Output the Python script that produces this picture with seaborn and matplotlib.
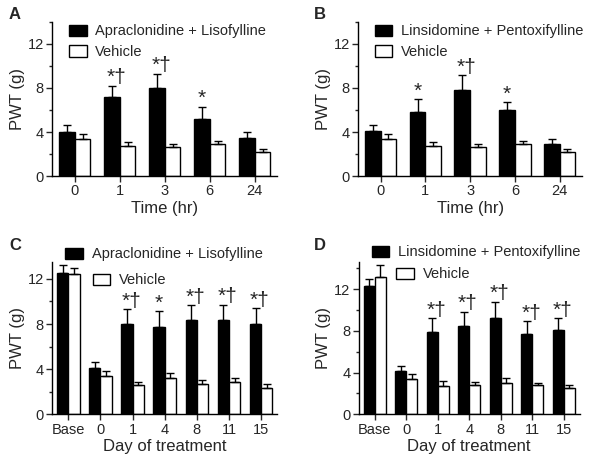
import pandas as pd
import matplotlib.pyplot as plt
import seaborn as sns
from matplotlib.patches import Patch
from matplotlib.ticker import MultipleLocator

sns.set_style('ticks')
plt.rcParams['font.family'] = ['Liberation Sans', 'DejaVu Sans']

# Panels A/B: hours after single dose
hours = ['0', '1', '3', '6', '24']
a_drug = [4.0, 7.15, 8.0, 5.15, 3.5]
a_drug_sem = [0.6, 1.05, 1.3, 1.15, 0.5]
a_veh = [3.4, 2.7, 2.6, 2.9, 2.2]
a_veh_sem = [0.4, 0.4, 0.3, 0.3, 0.3]
a_marks = ['', '*†', '*†', '*', '']

b_drug = [4.1, 5.8, 7.85, 6.0, 2.95]
b_drug_sem = [0.5, 1.2, 1.3, 0.7, 0.4]
b_veh = [3.4, 2.7, 2.6, 2.9, 2.2]
b_veh_sem = [0.4, 0.4, 0.3, 0.3, 0.3]
b_marks = ['', '*', '*†', '*', '']

# Panels C/D: days of treatment
days = ['Base', '0', '1', '4', '8', '11', '15']
c_drug = [12.55, 4.07, 8.0, 7.7, 8.35, 8.4, 8.0]
c_drug_sem = [0.65, 0.6, 1.3, 1.45, 1.3, 1.3, 1.4]
c_veh = [12.4, 3.4, 2.55, 3.25, 2.7, 2.9, 2.35]
c_veh_sem = [0.6, 0.4, 0.35, 0.45, 0.3, 0.3, 0.3]
c_marks = ['', '', '*†', '*', '*†', '*†', '*†']

d_drug = [12.25, 4.1, 7.85, 8.45, 9.25, 7.7, 8.05]
d_drug_sem = [0.7, 0.55, 1.35, 1.35, 1.55, 1.2, 1.15]
d_veh = [13.2, 3.4, 2.75, 2.8, 3.0, 2.85, 2.55]
d_veh_sem = [1.1, 0.45, 0.4, 0.3, 0.45, 0.1, 0.25]
d_marks = ['', '', '*†', '*†', '*†', '*†', '*†']

drug_ac = 'Apraclonidine + Lisofylline'
drug_lp = 'Linsidomine + Pentoxifylline'

fig = plt.figure(figsize=(6, 4.67), dpi=100)


def panel(rect, cats, drug, drug_sem, veh, veh_sem, marks, drug_name, xlabel,
          ytop, leg1, leg2):
    ax = fig.add_axes(rect)
    df = pd.DataFrame({
        'x': cats + cats,
        'group': [drug_name] * len(cats) + ['Vehicle'] * len(cats),
        'PWT': drug + veh,
    })
    sns.barplot(data=df, x='x', y='PWT', hue='group', order=cats,
                palette=['black', 'white'], saturation=1, width=0.7,
                edgecolor='black', linewidth=1, errorbar=None, legend=False, ax=ax)
    # one-sided SEM bars on top of each bar
    for cont, sem in zip(ax.containers, [drug_sem, veh_sem]):
        xs = [p.get_x() + p.get_width() / 2 for p in cont.patches]
        ys = [p.get_height() for p in cont.patches]
        ax.errorbar(xs, ys, yerr=[[0] * len(sem), sem], fmt='none', ecolor='black',
                    elinewidth=1, capsize=3, capthick=1)
    for p, s, m in zip(ax.containers[0].patches, drug_sem, marks):
        if m:
            xc = p.get_x() + p.get_width() / 2
            ax.annotate(m, (xc, p.get_height() + s), xytext=(-4 if len(m) > 1 else 0, -1),
                        textcoords='offset points', ha='left' if len(m) > 1 else 'center',
                        va='bottom', fontsize=15)
    ax.set_ylim(0, ytop)
    ax.set_xlim(-0.5, len(cats) - 0.5)
    ax.yaxis.set_major_locator(MultipleLocator(4))
    ax.yaxis.set_minor_locator(MultipleLocator(2))
    ax.tick_params(axis='both', which='major', labelsize=10.5, length=4, width=1, pad=2)
    ax.tick_params(axis='y', which='minor', length=2.5, width=1)
    ax.set_ylabel('PWT (g)', fontsize=12, labelpad=2)
    ax.set_xlabel(xlabel, fontsize=12, labelpad=2)
    for sp in ['left', 'bottom']:
        ax.spines[sp].set_linewidth(1)
        ax.spines[sp].set_color('black')
    sns.despine(ax=ax)
    kw = dict(frameon=False, fontsize=10.5, handlelength=1.2, handleheight=0.8,
              handletextpad=0.6, borderpad=0, borderaxespad=0, loc='center left')
    l1 = ax.legend(handles=[Patch(facecolor='black', edgecolor='black', label=drug_name)],
                   bbox_to_anchor=leg1, **kw)
    ax.add_artist(l1)
    ax.legend(handles=[Patch(facecolor='white', edgecolor='black', label='Vehicle')],
              bbox_to_anchor=leg2, **kw)
    return ax


panel([0.087, 0.623, 0.375, 0.330], hours, a_drug, a_drug_sem, a_veh, a_veh_sem,
      a_marks, drug_ac, 'Time (hr)', 14, (0.075, 0.94), (0.075, 0.805))
panel([0.597, 0.623, 0.373, 0.330], hours, b_drug, b_drug_sem, b_veh, b_veh_sem,
      b_marks, drug_lp, 'Time (hr)', 14, (0.075, 0.94), (0.075, 0.805))
panel([0.087, 0.113, 0.375, 0.326], days, c_drug, c_drug_sem, c_veh, c_veh_sem,
      c_marks, drug_ac, 'Day of treatment', 13.5, (0.058, 1.05), (0.18, 0.88))
panel([0.598, 0.113, 0.368, 0.326], days, d_drug, d_drug_sem, d_veh, d_veh_sem,
      d_marks, drug_lp, 'Day of treatment', 14.6, (0.059, 1.064), (0.17, 0.92))

for lbl, x, y in [('A', 0.015, 0.985), ('B', 0.523, 0.985),
                  ('C', 0.015, 0.49), ('D', 0.523, 0.49)]:
    fig.text(x, y, lbl, fontsize=12, fontweight='bold', va='top')

fig.savefig('out.png', dpi=100)
